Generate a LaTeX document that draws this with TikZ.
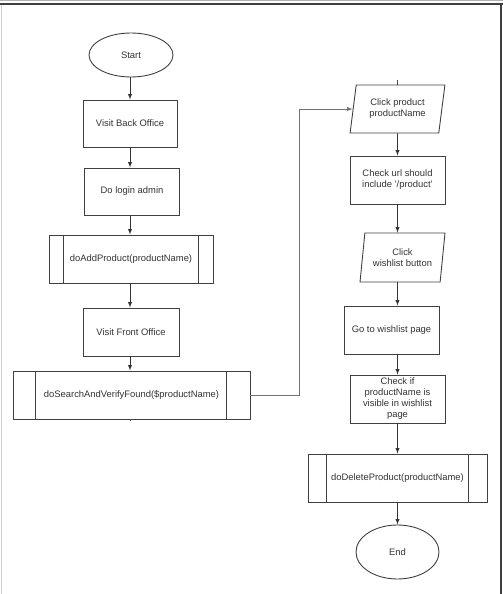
\documentclass[tikz,border=0pt]{standalone}
\usepackage{fontspec}
\setmainfont{Liberation Sans}
\usetikzlibrary{arrows,shapes.geometric}

\begin{document}
\begin{tikzpicture}[x=1pt,y=-1pt,line width=0.9pt,
  every node/.style={font=\fontsize{9.4}{11}\selectfont, text=black!80, align=center, draw=black!75, inner sep=0pt},
  term/.style={ellipse, minimum width=84pt, minimum height=44pt},
  proc/.style={rectangle, minimum width=95pt, minimum height=48pt},
  io/.style={trapezium, trapezium left angle=78, trapezium right angle=102, trapezium stretches=true, minimum width=95pt, minimum height=48pt},
  flow/.style={draw=black!80, -latex}]
\useasboundingbox (0,0) rectangle (503,594);

% frame
\draw[black!30,line width=1pt] (0,1) -- (503,1);
\draw[black!75,line width=1.5pt] (0,4) -- (503,4) (501,4) -- (501,594);
\draw[black!20,line width=1pt] (1,5) -- (1,594);

% left column
\node[term] (start) at (131,55) {Start};
\node[proc,minimum width=94pt,minimum height=47pt] (bo) at (130,123.5) {Visit Back Office};
\node[proc,minimum height=47pt] (login) at (132,191.5) {Do login admin};
\node[proc,minimum width=164pt] (addp) at (131,259) {doAddProduct(productName)};
\node[proc,minimum width=96pt] (fo) at (131,332) {Visit Front Office};
\node[proc,minimum width=237pt] (search) at (131.5,395) {doSearchAndVerifyFound(\$productName)};

% right column
\node[io] (clickp) at (397.5,109) {Click product\\productName};
\node[proc] (url) at (397.5,180) {Check url should\\include '/product'};
\node[io,minimum width=85pt,minimum height=49pt] (clickw) at (402.5,257.5) {Click\\wishlist button};
\node[proc] (gowl) at (391.5,330) {Go to wishlist page};
\node[proc] (check) at (397.5,399) {Check if\\productName is\\visible in wishlist\\page};
\node[proc,minimum width=179pt] (delp) at (397.5,478) {doDeleteProduct(productName)};
\node[term,minimum width=83pt,minimum height=54pt] (stop) at (397.5,552) {End};

% sub-process bars
\draw[black!75] ([xshift=15pt]addp.north west) -- ([xshift=15pt]addp.south west)
  ([xshift=-15pt]addp.north east) -- ([xshift=-15pt]addp.south east);
\draw[black!75] ([xshift=23pt]search.north west) -- ([xshift=23pt]search.south west)
  ([xshift=-24pt]search.north east) -- ([xshift=-24pt]search.south east);
\draw[black!75] ([xshift=19pt]delp.north west) -- ([xshift=19pt]delp.south west)
  ([xshift=-19pt]delp.north east) -- ([xshift=-19pt]delp.south east);

% arrows
\draw[flow] (start.south -| bo) -- (bo.north);
\draw[flow] (bo.south) -- (bo.south |- login.north);
\draw[flow] (login.south -| bo) -- (bo |- addp.north);
\draw[flow] (addp.south -| bo) -- (bo |- fo.north);
\draw[flow] (fo.south -| bo) -- (bo |- search.north);
\draw[black!70] (search.south -| bo) -- ++(0,2);
\draw[flow,draw=black!55] (search.east) -- ++(49,0) |- (clickp.west);

\draw[black!70] (clickp.north) -- ++(0,-5);
\draw[flow] (clickp.south) -- (url.north);
\draw[flow] (url.south) -- (url.south |- clickw.north);
\draw[flow] (clickw.south -| url) -- (url |- gowl.north);
\draw[flow] (gowl.south -| url) -- (check.north);
\draw[flow] (check.south) -- (delp.north);
\draw[flow] (delp.south) -- (stop.north);

\end{tikzpicture}
\end{document}
